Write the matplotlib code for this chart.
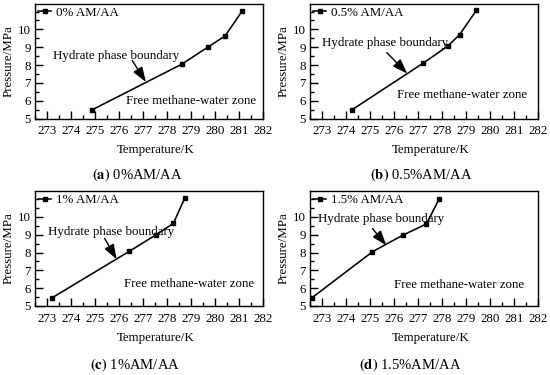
import matplotlib
matplotlib.use("Agg")
import matplotlib.pyplot as plt
from matplotlib.ticker import MultipleLocator

plt.rcParams['font.family'] = ['Liberation Serif', 'DejaVu Serif']
plt.rcParams['mathtext.fontset'] = 'stix'

# Data
temp_a = [274.87, 278.62, 279.7, 280.42, 281.13]
pres_a = [5.48, 8.05, 9.0, 9.63, 11.02]
temp_b = [274.24, 277.2, 278.24, 278.73, 279.43]
pres_b = [5.48, 8.09, 9.06, 9.7, 11.06]
temp_c = [273.2, 276.42, 277.55, 278.27, 278.73]
pres_c = [5.45, 8.06, 9.0, 9.64, 11.03]
temp_d = [272.57, 275.1, 276.38, 277.35, 277.88]
pres_d = [5.45, 8.04, 8.98, 9.6, 11.0]

series_labels = ["0% AM/AA", "0.5% AM/AA", "1% AM/AA", "1.5% AM/AA"]
caption_letters = ["(a)", "(b)", "(c)", "(d)"]
caption_texts = [" 0%AM/AA", " 0.5%AM/AA", " 1%AM/AA", " 1.5%AM/AA"]
x_ticks = [273, 274, 275, 276, 277, 278, 279, 280, 281, 282]
y_ticks = [5, 6, 7, 8, 9, 10]

# annotation positions (data coords): text-left, arrow tail, arrow head, free-zone text left
hyd_text = [(273.25, 8.5), (272.98, 9.24), (273.03, 9.17), (272.82, 9.87)]
arrow_tail = [(276.55, 8.25), (275.7, 8.7), (275.4, 8.8), (275.1, 9.35)]
arrow_head = [(277.12, 7.05), (276.55, 7.52), (275.9, 7.62), (275.68, 8.4)]
free_text = [(276.3, 5.97), (276.12, 6.29), (276.19, 6.24), (276.01, 6.19)]

W, H = 550, 375
fig = plt.figure(figsize=(W / 100, H / 100), dpi=100)

# axes boxes in pixels: left, right, top, bottom
boxes = [(35, 263, 3.5, 118.5), (310, 538, 3.5, 118.5),
         (35, 263, 191, 306), (310, 538, 191, 306)]
caption_pos = [(137.5, 175), (421.5, 175), (135.5, 365), (410.5, 365)]
xlabel_y = [150, 150, 338, 338]

temps = [temp_a, temp_b, temp_c, temp_d]
press = [pres_a, pres_b, pres_c, pres_d]

fs = 9.3
for i in range(4):
    l, r, t, b = boxes[i]
    ax = fig.add_axes([l / W, 1 - b / H, (r - l) / W, (b - t) / H])
    ax.plot(temps[i], press[i], color='black', lw=1.15, marker='s', ms=3.5,
            label=series_labels[i])
    ax.set_xlim(272.5, 282)
    ax.set_ylim(5, 11.45)
    ax.set_xticks(x_ticks)
    ax.set_yticks(y_ticks)
    ax.xaxis.set_minor_locator(MultipleLocator(0.5))
    ax.yaxis.set_minor_locator(MultipleLocator(0.5))
    ax.tick_params(which='both', direction='in', top=False, right=False,
                   width=1.0, labelsize=fs, colors='black')
    ax.tick_params(which='major', length=6)
    ax.tick_params(which='minor', length=3)
    ax.tick_params(axis='x', pad=5)
    ax.tick_params(axis='y', pad=3)
    for s in ax.spines.values():
        s.set_linewidth(1.0)
    ax.set_ylabel("Pressure/MPa", fontsize=fs, labelpad=2)
    ax.legend(loc='upper left', frameon=False, fontsize=fs,
              handlelength=1.0, handletextpad=0.4, borderaxespad=0.15,
              borderpad=0.1)
    ax.annotate("", xy=arrow_head[i], xytext=arrow_tail[i],
                arrowprops=dict(arrowstyle='-|>,head_length=0.9,head_width=0.32',
                                color='black', lw=1.0, shrinkA=0, shrinkB=0))
    ax.text(hyd_text[i][0], hyd_text[i][1], "Hydrate phase boundary",
            fontsize=fs, ha='left', va='center')
    ax.text(free_text[i][0], free_text[i][1], "Free methane-water zone",
            fontsize=fs, ha='left', va='center')
    cx = (l + r) / 2 + 7
    fig.text(cx / W, 1 - xlabel_y[i] / H, "Temperature/K", fontsize=fs,
             ha='center', va='center')
    px, py = caption_pos[i]
    fig.text(px / W, 1 - py / H,
             r"$\mathbf{" + caption_letters[i] + r"}$" + caption_texts[i],
             fontsize=10.5, ha='center', va='center')

fig.savefig("out.png", dpi=100)
